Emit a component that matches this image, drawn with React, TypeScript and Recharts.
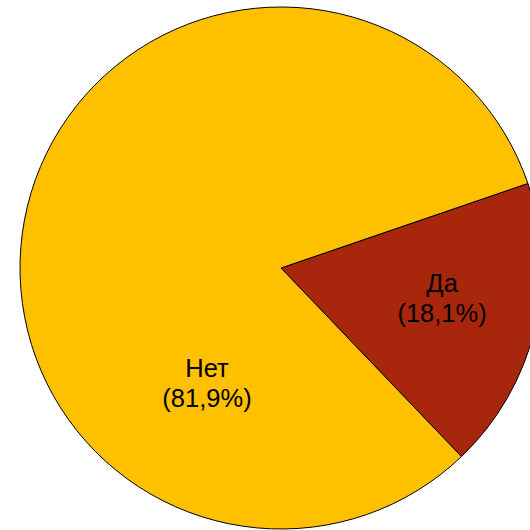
import React from 'react';
import { PieChart, Pie, Cell } from 'recharts';

const names = ['Да', 'Нет'];
const values = [18.1, 81.9];
const colors = ['#A8260B', '#FFC000'];

// polar placement of the text blocks (deg, fraction of radius)
const LABEL_POS: Record<string, { angle: number; r: number }> = {
  'Да': { angle: -13.6, r: 0.635 },
  'Нет': { angle: -120.9, r: 0.552 },
};

const RADIAN = Math.PI / 180;
const START = 18.9;

const data = names.map((name, i) => ({ name, value: values[i] }));

const renderLabel = (props: any) => {
  const { cx, cy, outerRadius, name, value } = props;
  const pos = LABEL_POS[name];
  const x = cx + outerRadius * pos.r * Math.cos(pos.angle * RADIAN);
  const y = cy - outerRadius * pos.r * Math.sin(pos.angle * RADIAN);
  return (
    <text
      x={x}
      y={y}
      textAnchor="middle"
      fill="#000"
      fontSize={25.5}
      fontFamily="'Liberation Sans', Arial, sans-serif"
    >
      <tspan x={x} y={y - 15}>{name}</tspan>
      <tspan x={x} y={y + 15.5}>({value.toFixed(1).replace('.', ',')}%)</tspan>
    </text>
  );
};

export default function App() {
  return (
    <div style={{ position: 'fixed', left: 0, top: 0, width: 530, height: 530, background: '#fff' }}>
      <PieChart width={530} height={530} margin={{ top: 0, right: 0, bottom: 0, left: 0 }}>
        <Pie
          data={data}
          dataKey="value"
          nameKey="name"
          cx={281}
          cy={268}
          outerRadius={261}
          startAngle={START}
          endAngle={START - 360}
          stroke="#000"
          strokeWidth={1}
          label={renderLabel}
          labelLine={false}
          isAnimationActive={false}
        >
          {data.map((d, i) => (
            <Cell key={d.name} fill={colors[i]} />
          ))}
        </Pie>
      </PieChart>
    </div>
  );
}
